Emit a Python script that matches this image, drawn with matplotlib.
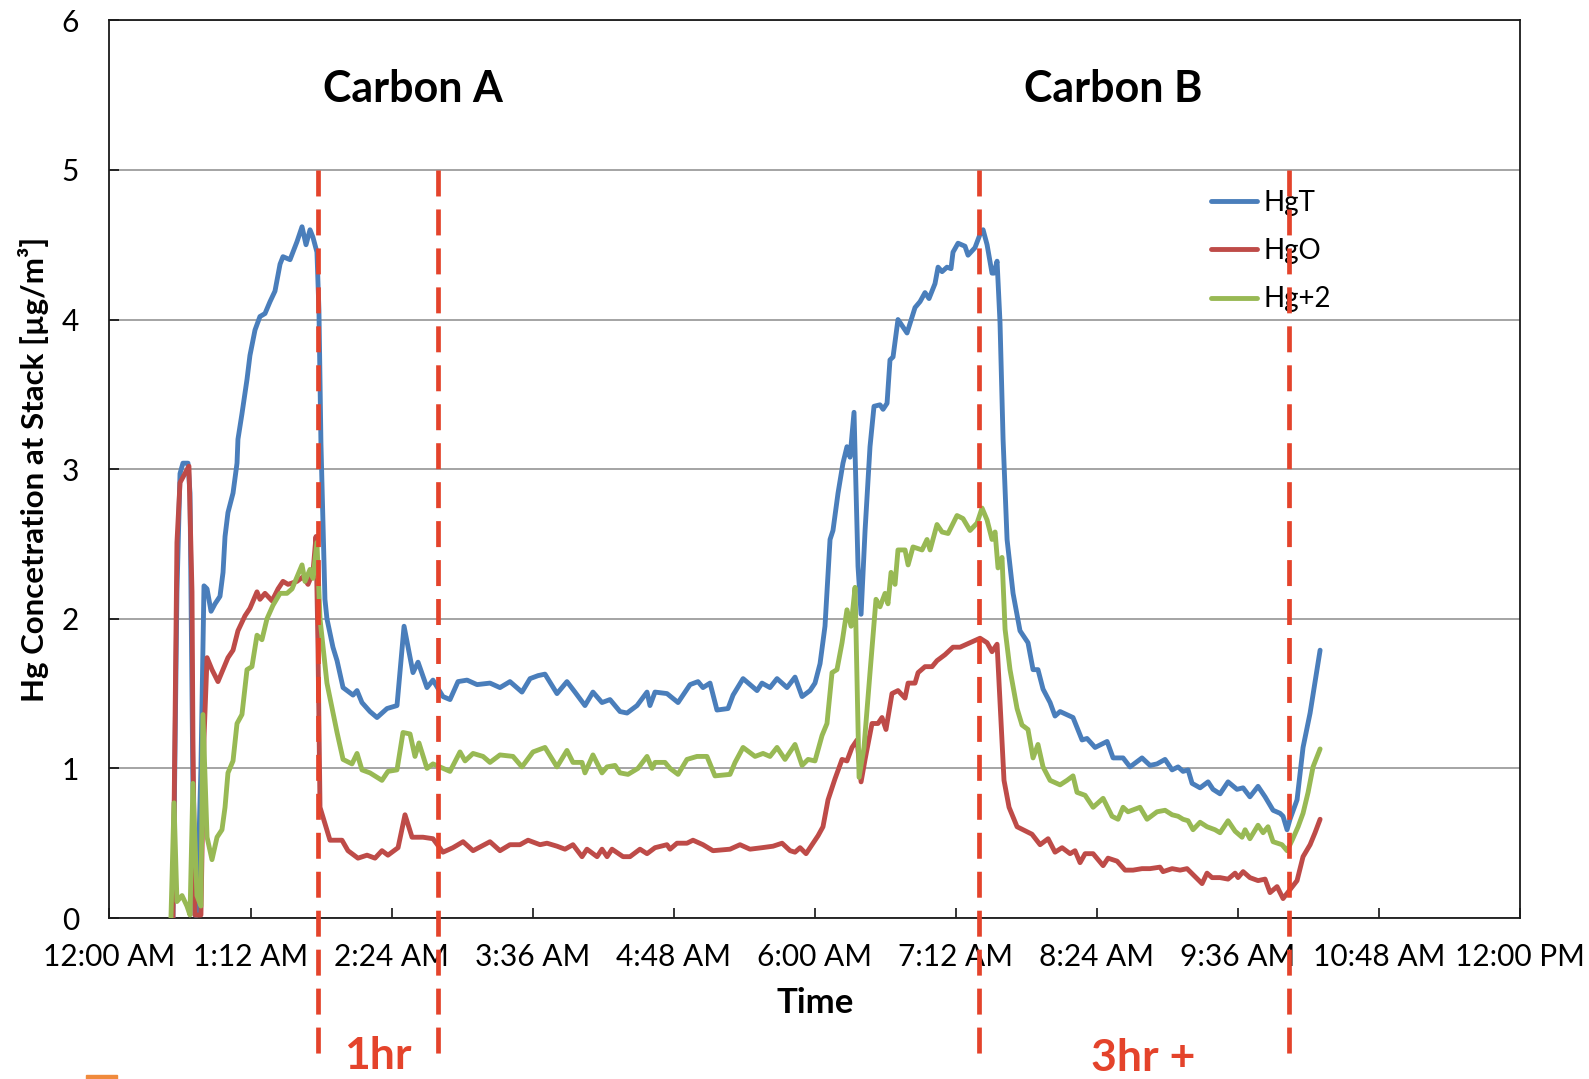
import matplotlib
matplotlib.use('Agg')
import matplotlib.pyplot as plt
from matplotlib.patches import Rectangle

plt.rcParams['font.family'] = ['Lato', 'DejaVu Sans']

# ---------------- data (time in hours after midnight, concentration in ug/m3) -------------
t_hgt = [0.540, 0.574, 0.600, 0.625, 0.668, 0.685, 0.710, 0.727, 0.744, 0.778,
         0.804, 0.830, 0.864, 0.898, 0.940, 0.966, 0.983, 1.008, 1.051, 1.085,
         1.093, 1.127, 1.170, 1.195, 1.238, 1.280, 1.323, 1.366, 1.408, 1.451,
         1.476, 1.536, 1.595, 1.638, 1.672, 1.706, 1.731, 1.765, 1.782, 1.799,
         1.816, 1.833, 1.850, 1.901, 1.936, 1.987, 2.072, 2.106, 2.148, 2.216,
         2.276, 2.361, 2.446, 2.506, 2.582, 2.625, 2.701, 2.752, 2.837, 2.897,
         2.965, 3.042, 3.127, 3.237, 3.322, 3.407, 3.509, 3.578, 3.646, 3.705,
         3.807, 3.892, 3.960, 4.045, 4.113, 4.190, 4.258, 4.343, 4.403, 4.488,
         4.573, 4.598, 4.641, 4.743, 4.837, 4.939, 5.007, 5.049, 5.109, 5.168,
         5.262, 5.305, 5.390, 5.509, 5.551, 5.619, 5.679, 5.764, 5.832, 5.892,
         5.960, 6.002, 6.045, 6.087, 6.130, 6.155, 6.198, 6.240, 6.274, 6.300,
         6.334, 6.368, 6.394, 6.428, 6.470, 6.504, 6.555, 6.581, 6.615, 6.640,
         6.666, 6.708, 6.785, 6.853, 6.896, 6.938, 6.972, 7.023, 7.049, 7.083,
         7.125, 7.159, 7.176, 7.219, 7.278, 7.304, 7.363, 7.406, 7.432, 7.466,
         7.508, 7.525, 7.551, 7.576, 7.602, 7.636, 7.687, 7.746, 7.814, 7.857,
         7.899, 7.942, 8.002, 8.044, 8.087, 8.197, 8.274, 8.316, 8.385, 8.487,
         8.538, 8.623, 8.682, 8.784, 8.852, 8.912, 8.980, 9.040, 9.091, 9.133,
         9.176, 9.210, 9.278, 9.346, 9.388, 9.448, 9.516, 9.592, 9.644, 9.702,
         9.771, 9.831, 9.899, 9.958, 9.984, 10.018, 10.043, 10.103, 10.154, 10.214,
         10.299]
hgt = [0.00, 2.18, 2.97, 3.04, 3.04, 2.84, 0.87, 0.02, 0.02, 1.00,
       2.22, 2.20, 2.05, 2.10, 2.15, 2.31, 2.55, 2.71, 2.84, 3.04,
       3.20, 3.37, 3.60, 3.76, 3.93, 4.02, 4.04, 4.12, 4.19, 4.37,
       4.42, 4.40, 4.52, 4.62, 4.50, 4.60, 4.55, 4.45, 4.06, 3.17,
       2.64, 2.13, 2.00, 1.81, 1.72, 1.54, 1.49, 1.52, 1.44, 1.38,
       1.34, 1.40, 1.42, 1.95, 1.64, 1.71, 1.54, 1.59, 1.48, 1.46,
       1.58, 1.59, 1.56, 1.57, 1.54, 1.58, 1.51, 1.60, 1.62, 1.63,
       1.50, 1.58, 1.51, 1.42, 1.51, 1.44, 1.46, 1.38, 1.37, 1.42,
       1.51, 1.42, 1.51, 1.50, 1.44, 1.56, 1.58, 1.54, 1.57, 1.39,
       1.40, 1.49, 1.60, 1.52, 1.57, 1.54, 1.60, 1.54, 1.61, 1.48,
       1.52, 1.57, 1.70, 1.95, 2.53, 2.59, 2.84, 3.04, 3.15, 3.08,
       3.38, 2.35, 2.03, 2.59, 3.15, 3.42, 3.43, 3.40, 3.44, 3.73,
       3.75, 4.00, 3.91, 4.08, 4.12, 4.18, 4.14, 4.24, 4.35, 4.32,
       4.35, 4.34, 4.45, 4.51, 4.49, 4.43, 4.48, 4.57, 4.60, 4.50,
       4.31, 4.31, 4.39, 3.98, 3.20, 2.53, 2.17, 1.92, 1.84, 1.66,
       1.66, 1.53, 1.44, 1.35, 1.38, 1.34, 1.19, 1.20, 1.14, 1.18,
       1.07, 1.07, 1.01, 1.07, 1.02, 1.03, 1.06, 0.99, 1.01, 0.98,
       0.99, 0.90, 0.87, 0.91, 0.86, 0.83, 0.91, 0.86, 0.87, 0.81,
       0.88, 0.81, 0.72, 0.70, 0.68, 0.59, 0.66, 0.79, 1.14, 1.37,
       1.79]

t_hgo = [0.540, 0.574, 0.600, 0.642, 0.676, 0.702, 0.710, 0.727, 0.778, 0.804,
         0.830, 0.872, 0.923, 0.966, 1.008, 1.051, 1.093, 1.153, 1.195, 1.255,
         1.280, 1.323, 1.383, 1.434, 1.476, 1.519, 1.595, 1.646, 1.689, 1.731,
         1.757, 1.774, 1.791, 1.876, 1.978, 2.029, 2.114, 2.191, 2.259, 2.318,
         2.369, 2.455, 2.514, 2.574, 2.667, 2.752, 2.837, 2.922, 3.008, 3.093,
         3.237, 3.322, 3.407, 3.492, 3.561, 3.663, 3.722, 3.807, 3.875, 3.943,
         4.020, 4.062, 4.148, 4.190, 4.233, 4.275, 4.369, 4.428, 4.513, 4.573,
         4.641, 4.743, 4.769, 4.828, 4.913, 4.964, 5.049, 5.134, 5.279, 5.364,
         5.449, 5.551, 5.645, 5.722, 5.790, 5.832, 5.875, 5.926, 5.977, 6.028,
         6.070, 6.113, 6.172, 6.232, 6.274, 6.317, 6.360, 6.394, 6.428, 6.487,
         6.538, 6.572, 6.606, 6.657, 6.708, 6.768, 6.794, 6.853, 6.879, 6.938,
         6.998, 7.040, 7.108, 7.176, 7.236, 7.321, 7.406, 7.466, 7.508, 7.551,
         7.585, 7.610, 7.653, 7.721, 7.772, 7.848, 7.917, 7.985, 8.044, 8.104,
         8.172, 8.214, 8.257, 8.300, 8.368, 8.453, 8.495, 8.572, 8.640, 8.708,
         8.784, 8.852, 8.937, 8.963, 9.040, 9.108, 9.167, 9.218, 9.295, 9.337,
         9.380, 9.448, 9.516, 9.576, 9.601, 9.644, 9.702, 9.771, 9.831, 9.873,
         9.933, 9.984, 10.043, 10.103, 10.154, 10.214, 10.256, 10.299]
hgo = [0.00, 2.51, 2.91, 2.97, 3.02, 2.18, 1.20, 0.02, 0.02, 1.20,
       1.74, 1.66, 1.58, 1.66, 1.74, 1.79, 1.92, 2.02, 2.07, 2.18,
       2.13, 2.17, 2.12, 2.20, 2.25, 2.23, 2.25, 2.28, 2.23, 2.31,
       2.55, 1.80, 0.74, 0.52, 0.52, 0.45, 0.40, 0.42, 0.40, 0.45,
       0.42, 0.47, 0.69, 0.54, 0.54, 0.53, 0.44, 0.47, 0.51, 0.45,
       0.51, 0.45, 0.49, 0.49, 0.52, 0.49, 0.50, 0.48, 0.46, 0.49,
       0.41, 0.46, 0.41, 0.46, 0.41, 0.46, 0.41, 0.41, 0.46, 0.43,
       0.47, 0.49, 0.46, 0.50, 0.50, 0.52, 0.49, 0.45, 0.46, 0.49,
       0.46, 0.47, 0.48, 0.50, 0.45, 0.44, 0.47, 0.43, 0.49, 0.55,
       0.61, 0.79, 0.93, 1.06, 1.05, 1.14, 1.19, 0.91, 1.06, 1.30,
       1.30, 1.34, 1.26, 1.50, 1.52, 1.47, 1.57, 1.57, 1.64, 1.68,
       1.68, 1.72, 1.76, 1.81, 1.81, 1.84, 1.87, 1.84, 1.78, 1.83,
       1.30, 0.92, 0.74, 0.61, 0.59, 0.56, 0.49, 0.53, 0.44, 0.47,
       0.43, 0.45, 0.37, 0.43, 0.43, 0.35, 0.40, 0.38, 0.32, 0.32,
       0.33, 0.33, 0.34, 0.31, 0.33, 0.32, 0.33, 0.29, 0.23, 0.30,
       0.27, 0.27, 0.26, 0.30, 0.27, 0.31, 0.27, 0.25, 0.26, 0.17,
       0.21, 0.13, 0.19, 0.25, 0.41, 0.49, 0.57, 0.66]

t_hg2 = [0.523, 0.549, 0.574, 0.617, 0.659, 0.685, 0.710, 0.744, 0.778, 0.795,
         0.830, 0.872, 0.915, 0.957, 0.983, 1.008, 1.051, 1.085, 1.127, 1.170,
         1.212, 1.255, 1.297, 1.340, 1.391, 1.451, 1.510, 1.553, 1.595, 1.638,
         1.663, 1.706, 1.731, 1.765, 1.791, 1.825, 1.850, 1.936, 1.987, 2.063,
         2.106, 2.148, 2.216, 2.318, 2.369, 2.446, 2.497, 2.557, 2.599, 2.633,
         2.701, 2.752, 2.897, 2.982, 3.025, 3.093, 3.178, 3.237, 3.322, 3.433,
         3.509, 3.603, 3.705, 3.807, 3.892, 3.943, 4.020, 4.045, 4.113, 4.190,
         4.233, 4.301, 4.343, 4.411, 4.496, 4.573, 4.616, 4.641, 4.726, 4.769,
         4.837, 4.913, 4.998, 5.083, 5.151, 5.279, 5.322, 5.390, 5.492, 5.560,
         5.619, 5.679, 5.747, 5.832, 5.892, 5.943, 6.002, 6.062, 6.104, 6.147,
         6.189, 6.232, 6.274, 6.309, 6.343, 6.377, 6.419, 6.470, 6.521, 6.555,
         6.598, 6.623, 6.649, 6.683, 6.708, 6.768, 6.794, 6.836, 6.913, 6.955,
         6.981, 7.040, 7.083, 7.134, 7.210, 7.261, 7.321, 7.381, 7.423, 7.466,
         7.508, 7.534, 7.559, 7.593, 7.619, 7.661, 7.721, 7.763, 7.814, 7.857,
         7.899, 7.942, 8.002, 8.087, 8.146, 8.197, 8.231, 8.300, 8.368, 8.453,
         8.529, 8.580, 8.623, 8.665, 8.767, 8.827, 8.912, 8.980, 9.040, 9.091,
         9.133, 9.176, 9.218, 9.278, 9.337, 9.405, 9.448, 9.516, 9.576, 9.635,
         9.661, 9.702, 9.771, 9.814, 9.856, 9.899, 9.975, 10.018, 10.061, 10.112,
         10.154, 10.197, 10.239, 10.299]
hg2 = [0.00, 0.77, 0.11, 0.15, 0.08, 0.02, 0.90, 0.15, 0.08, 1.36,
       0.54, 0.39, 0.54, 0.59, 0.74, 0.97, 1.05, 1.30, 1.36, 1.66,
       1.68, 1.89, 1.86, 2.00, 2.09, 2.17, 2.17, 2.20, 2.28, 2.36,
       2.25, 2.33, 2.27, 2.51, 2.00, 1.75, 1.57, 1.24, 1.06, 1.03,
       1.10, 0.99, 0.97, 0.92, 0.98, 0.99, 1.24, 1.23, 1.08, 1.17,
       1.00, 1.03, 0.98, 1.11, 1.05, 1.10, 1.08, 1.04, 1.09, 1.08,
       1.01, 1.11, 1.14, 1.01, 1.12, 1.04, 1.04, 0.97, 1.09, 0.97,
       1.01, 1.02, 0.97, 0.96, 1.00, 1.08, 1.00, 1.04, 1.04, 1.00,
       0.96, 1.06, 1.08, 1.08, 0.95, 0.96, 1.04, 1.14, 1.08, 1.10,
       1.08, 1.14, 1.06, 1.16, 1.02, 1.06, 1.05, 1.22, 1.30, 1.64,
       1.66, 1.84, 2.06, 1.95, 2.21, 0.94, 1.14, 1.64, 2.13, 2.08,
       2.17, 2.10, 2.31, 2.23, 2.46, 2.46, 2.36, 2.48, 2.46, 2.53,
       2.46, 2.63, 2.58, 2.57, 2.69, 2.67, 2.59, 2.64, 2.74, 2.66,
       2.53, 2.58, 2.34, 2.41, 1.93, 1.66, 1.40, 1.29, 1.26, 1.07,
       1.16, 1.01, 0.92, 0.89, 0.92, 0.95, 0.84, 0.82, 0.74, 0.80,
       0.68, 0.66, 0.74, 0.71, 0.74, 0.66, 0.71, 0.72, 0.69, 0.68,
       0.66, 0.65, 0.59, 0.64, 0.61, 0.59, 0.57, 0.65, 0.58, 0.54,
       0.59, 0.53, 0.62, 0.57, 0.61, 0.51, 0.49, 0.45, 0.52, 0.61,
       0.70, 0.84, 1.01, 1.13]

series_names = ['HgT', 'HgO', 'Hg+2']
series_colors = ['#4A7EBB', '#BE4B48', '#98B954']

tick_hours = [0, 1.2, 2.4, 3.6, 4.8, 6.0, 7.2, 8.4, 9.6, 10.8, 12.0]
tick_labels = ['12:00 AM', '1:12 AM', '2:24 AM', '3:36 AM', '4:48 AM', '6:00 AM',
               '7:12 AM', '8:24 AM', '9:36 AM', '10:48 AM', '12:00 PM']

# carbon injection markers (hours) and annotation texts
marker_hours = [1.774, 2.795, 7.398, 10.035]
carbon_labels = ['Carbon A', 'Carbon B']
carbon_label_hours = [2.58, 8.54]
period_labels = ['1hr', '3hr +']

accent = '#E4432B'

# ---------------- figure ----------------
fig = plt.figure(figsize=(15.89, 10.79), dpi=100)
ax = fig.add_axes([0.0689, 0.1492, 0.8877, 0.8320])

for t, v, name, col in zip([t_hgt, t_hgo, t_hg2], [hgt, hgo, hg2], series_names, series_colors):
    ax.plot(t, v, color=col, lw=3.5, label=name, solid_joinstyle='round',
            solid_capstyle='round', zorder=3)

ax.set_xlim(0, 12)
ax.set_ylim(0, 6)
ax.set_xticks(tick_hours)
ax.set_xticklabels(tick_labels)
ax.set_yticks(range(7))
ax.tick_params(axis='both', direction='in', length=7, width=1.1, colors='black',
               labelsize=21.5)
ax.tick_params(axis='x', pad=18)
ax.tick_params(axis='y', pad=22)
ax.grid(axis='y', color='#8C8C8C', lw=1.1)
ax.set_axisbelow(True)
for s in ax.spines.values():
    s.set_color('#1a1a1a')
    s.set_linewidth(1.3)

ax.set_xlabel('Time', fontsize=25, fontweight='bold', va='center')
ax.xaxis.set_label_coords(0.5, -0.0947)
ax.set_ylabel('Hg Concetration at Stack [\u00b5g/m\u00b3]', fontsize=22.5,
              fontweight='bold', va='center')
ax.yaxis.set_label_coords(-0.0542, 0.5)

leg = ax.legend(loc='upper left', bbox_to_anchor=(0.7809, 0.8110), frameon=False,
                fontsize=20, handlelength=1.65, handletextpad=0.25,
                labelspacing=0.8, borderpad=0, borderaxespad=0)
for h in leg.legend_handles:
    h.set_linewidth(3.5)
    h.set_solid_capstyle('round')

# dashed vertical markers extending below the axes
ax.vlines(marker_hours, 5.0, -0.94, colors=accent, lw=3.4,
          linestyles=[(0, (5.5, 2.75))], clip_on=False, zorder=6)

for lab, h in zip(carbon_labels, carbon_label_hours):
    ax.text(h, 5.54, lab, fontsize=31, fontweight='bold', ha='center', va='center')

fig.text(0.238, 0.003, period_labels[0], fontsize=32, fontweight='bold',
         color=accent, ha='center', va='bottom')
fig.text(0.7193, 0.0074, period_labels[1], fontsize=32, fontweight='bold',
         color=accent, ha='center', va='baseline')

fig.patches.append(Rectangle((86 / 1589, 0), 31 / 1589, 4 / 1079,
                             transform=fig.transFigure, color='#F08A3C'))

fig.savefig('out.png', dpi=100)
